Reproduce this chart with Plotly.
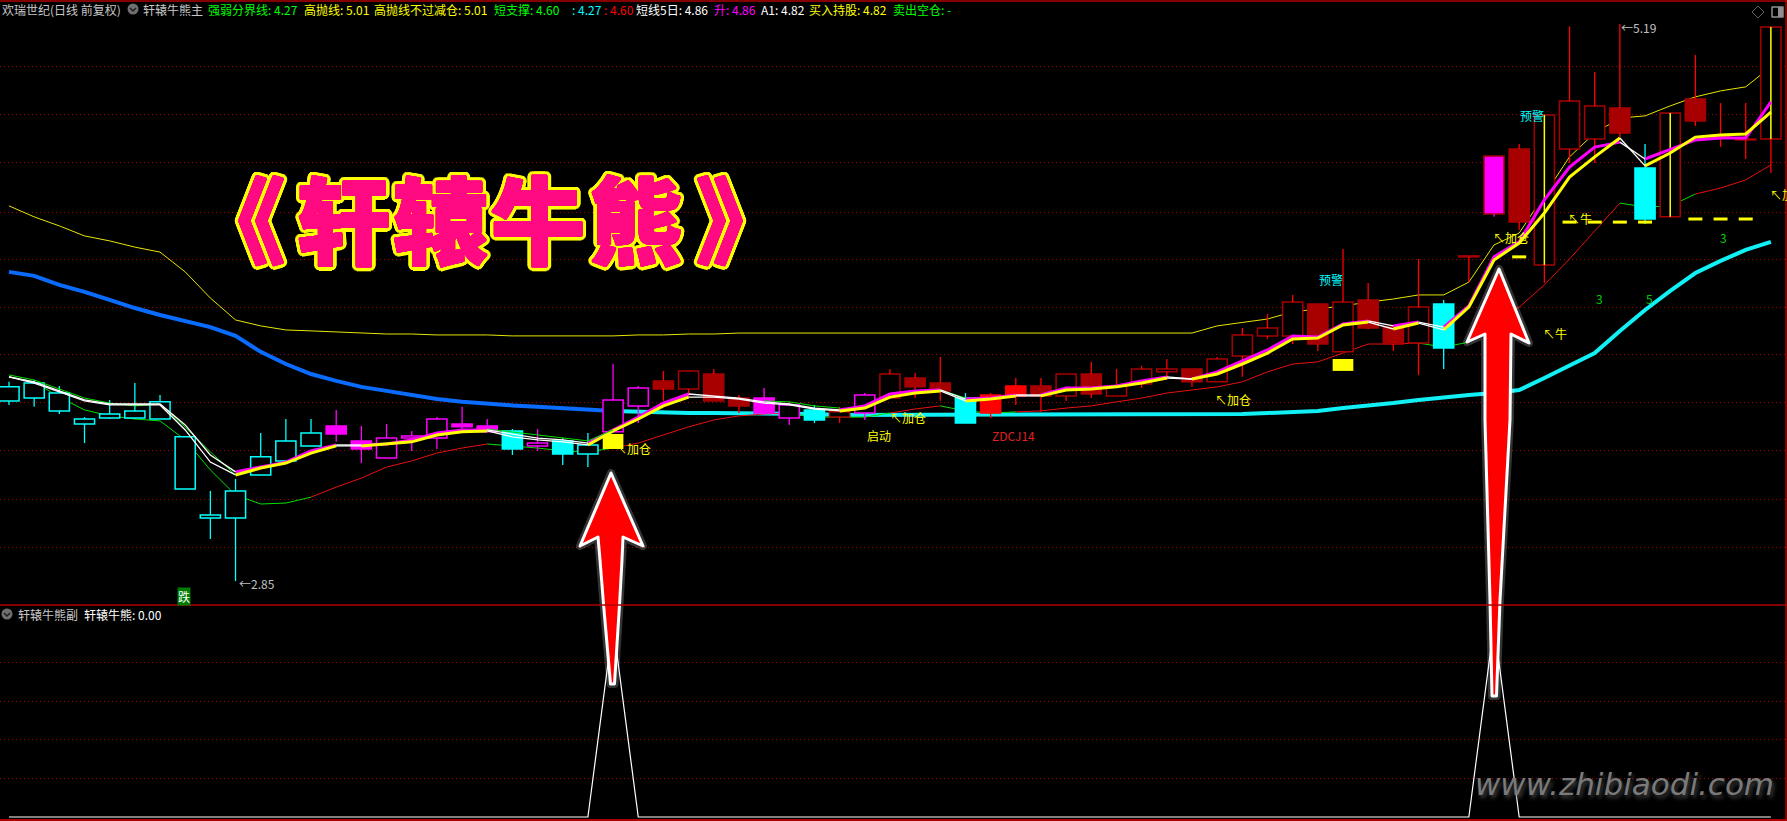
import plotly.graph_objects as go
import math

W, H = 1787, 821

bars = list(range(71))

body_top = [3.666,3.682,3.640,3.531,3.552,3.565,3.603,3.456,3.128,3.229,3.372,3.439,3.472,3.502,3.439,3.451,3.460,3.531,3.510,3.502,
            3.481,3.430,3.439,3.422,3.611,3.661,3.691,3.733,3.720,3.619,3.619,3.590,3.569,3.561,3.632,3.720,3.703,3.682,3.619,3.632,
            3.670,3.670,3.720,3.720,3.670,3.741,3.741,3.741,3.783,3.884,3.913,4.022,4.014,4.022,4.031,3.917,4.001,4.014,4.216,4.636,
            4.665,4.808,4.867,4.846,4.837,4.585,4.816,4.875,4.720,4.707,5.177]
body_bottom = [3.607,3.619,3.565,3.510,3.535,3.535,3.531,3.237,3.115,3.115,3.296,3.355,3.418,3.468,3.405,3.367,3.451,3.451,3.498,3.477,
               3.405,3.418,3.384,3.384,3.477,3.586,3.657,3.657,3.607,3.586,3.556,3.535,3.527,3.539,3.556,3.619,3.666,3.649,3.514,3.556,
               3.628,3.628,3.628,3.636,3.628,3.678,3.729,3.687,3.687,3.796,3.880,3.880,3.846,3.813,3.913,3.846,3.850,3.829,4.212,4.392,
               4.358,4.178,4.665,4.707,4.732,4.371,4.380,4.783,4.711,4.703,4.707]
high = [3.687,3.695,3.670,3.539,3.611,3.682,3.632,3.456,3.229,3.279,3.472,3.531,3.531,3.569,3.502,3.510,3.481,3.539,3.582,3.531,
        3.489,3.489,3.451,3.472,3.762,3.670,3.733,3.733,3.741,3.632,3.661,3.603,3.590,3.582,3.640,3.741,3.724,3.791,3.640,3.640,
        3.703,3.703,3.720,3.771,3.741,3.754,3.783,3.741,3.791,3.913,3.972,4.052,4.014,4.245,4.102,3.922,4.203,4.031,4.216,4.636,
        4.686,4.808,5.180,4.988,5.190,4.686,4.816,5.060,4.858,4.858,5.177]
low = [3.590,3.582,3.552,3.430,3.531,3.531,3.531,3.237,3.027,2.850,3.296,3.355,3.418,3.435,3.346,3.367,3.397,3.405,3.481,3.477,
       3.380,3.397,3.338,3.329,3.477,3.514,3.607,3.623,3.607,3.556,3.548,3.506,3.514,3.514,3.527,3.619,3.619,3.607,3.514,3.535,
       3.590,3.561,3.607,3.619,3.628,3.661,3.695,3.666,3.687,3.708,3.867,3.846,3.817,3.813,3.909,3.817,3.716,3.741,4.106,4.380,
       4.325,4.102,4.606,4.606,4.711,4.350,4.380,4.762,4.674,4.623,4.564]
candle_style = ["ch"]*13 + ["mf","mf","mh","mh","mh","mf","mf","cf","mh","cf","ch","mh","mh","rf","rh","rf","rf","mf","mh","cf","rh",
                "mh","rh","rf","rf","cf","Rf","Rf","rf","rh","rf","rh","rh","rh","rf","rh","rh","rh","rh","rf","rh","rf","rf","rh",
                "cf","rh","mo","rf","rh","rh","rh","rf","cf","rh","rf","rf","rh","rh"]

band_line = [4.149,4.132,4.094,4.065,4.031,3.997,3.968,3.943,3.917,3.880,3.813,3.762,3.720,3.691,3.666,3.649,3.632,3.615,3.603,3.594,
             3.588,3.582,3.575,3.569,3.565,3.561,3.561,3.556,3.556,3.556,3.556,3.556,3.552,3.548,3.548,3.548,3.548,3.548,3.548,3.548,
             3.548,3.548,3.548,3.548,3.548,3.548,3.548,3.548,3.550,3.552,3.556,3.561,3.565,3.577,3.586,3.598,3.611,3.623,3.632,3.640,
             3.653,3.703,3.754,3.808,3.901,3.989,4.069,4.144,4.195,4.241,4.275]
band_blue_until = 24

high_sell = [4.426,4.380,4.342,4.300,4.279,4.253,4.232,4.149,4.039,3.947,3.922,3.905,3.901,3.896,3.892,3.888,3.888,3.884,3.884,3.884,
             3.880,3.880,3.880,3.880,3.880,3.884,3.884,3.888,3.888,3.892,3.892,3.892,3.892,3.892,3.892,3.892,3.892,3.892,3.892,3.892,
             3.892,3.892,3.892,3.892,3.892,3.892,3.892,3.892,3.922,3.938,3.951,3.981,3.993,4.006,4.022,4.035,4.052,4.052,4.106,4.262,
             4.312,4.472,4.632,4.732,4.795,4.804,4.846,4.884,4.909,4.926,5.010]

support = [3.708,3.687,3.623,3.569,3.544,3.531,3.523,3.443,3.317,3.212,3.174,3.178,3.203,3.245,3.283,3.329,3.355,3.388,3.409,3.426,
           3.418,3.409,3.397,3.393,3.409,3.430,3.464,3.498,3.527,3.544,3.552,3.556,3.539,3.539,3.539,3.556,3.573,3.586,3.565,3.556,
           3.561,3.565,3.577,3.586,3.603,3.619,3.640,3.653,3.666,3.687,3.729,3.762,3.771,3.808,3.846,3.846,3.850,3.833,3.854,3.938,
           4.001,4.094,4.203,4.321,4.438,4.421,4.426,4.476,4.501,4.535,4.598]
support_colors = "g"*12 + "r"*7 + "g"*5 + "r"*7 + "g"*4 + "r"*2 + "g"*3 + "r"*16 + "g"*2 + "r"*6 + "g"*3 + "r"*3

hold_line = [3.708,3.682,3.645,3.607,3.590,3.590,3.590,3.485,3.350,3.296,3.325,3.346,3.388,3.418,3.418,3.426,3.435,3.464,3.477,3.481,
             3.456,3.443,3.435,3.422,3.481,3.531,3.586,3.623,3.623,3.615,3.598,3.590,3.573,3.565,3.577,3.623,3.640,3.649,3.607,3.615,
             3.628,3.628,3.653,3.657,3.666,3.682,3.703,3.699,3.720,3.762,3.808,3.867,3.871,3.926,3.938,3.909,3.934,3.905,4.001,4.199,
             4.270,4.396,4.547,4.632,4.711,4.594,4.648,4.715,4.724,4.728,4.820]
rise_line = [3.708,3.687,3.649,3.611,3.594,3.594,3.594,3.506,3.380,3.309,3.329,3.350,3.397,3.422,3.422,3.426,3.443,3.472,3.485,3.485,
             3.468,3.451,3.443,3.430,3.485,3.539,3.598,3.636,3.628,3.619,3.603,3.594,3.577,3.569,3.586,3.636,3.649,3.653,3.615,3.619,
             3.632,3.632,3.661,3.661,3.670,3.691,3.708,3.699,3.729,3.775,3.821,3.880,3.875,3.930,3.943,3.922,3.938,3.917,4.006,4.212,
             4.275,4.451,4.589,4.673,4.694,4.623,4.662,4.703,4.711,4.711,4.863]
N = None
fall_line = [3.716,3.695,3.657,3.619,3.598,3.586,3.594,3.497,3.393,3.296,N,N,N,N,N,N,N,N,N,3.489,
             3.477,3.464,3.451,3.439,3.485,N,N,N,N,N,3.607,3.603,3.586,3.577,N,N,N,3.653,3.619,N,
             N,N,N,N,N,N,N,N,N,N,N,N,N,N,N,N,N,N,N,N,
             N,N,N,N,N,N,N,N,N,N,N]

stem_bars = [61, 66, 70]
stem_top = [4.808, 4.816, 5.177]
stem_bottom = [4.178, 4.380, 4.707]

signal_bars = [24, 53]
signal_top = [3.468, 3.783]
signal_bottom = [3.405, 3.733]

dash_bars = [60, 62, 63, 64, 65, 67, 68, 69]
dash_prices = [4.212, 4.358, 4.358, 4.358, 4.358, 4.371, 4.371, 4.371]

grid_prices = [5.01, 4.81, 4.61, 4.40, 4.20, 4.00, 3.80, 3.60, 3.40, 3.195, 2.99]

bull_bear = [0]*24 + [100] + [0]*34 + [100] + [0]*11
bull_bear_grid = [20, 40, 60, 80]

mark_text = ["↖加仓","↖加仓","↖加仓","↖加仓","↖加仓","↖牛","↖牛","启动","ZDCJ14","预警","预警","3","5","3","←2.85","←5.19"]
mark_x = [24.04,34.96,47.88,58.92,69.92,60.91,61.88,34.05,39.0,52.0,60.0,63.0,65.0,67.95,9.08,64.0]
mark_y = [3.409,3.539,3.615,4.295,4.472,3.892,4.375,3.460,3.460,4.115,4.804,4.039,4.039,4.295,2.842,5.177]
mark_color = ["#ffff00"]*8 + ["#e02020","#00ffff","#00ffff","#00d000","#00d000","#00d000","#c0c0c0","#c0c0c0"]

header_text = ["欢瑞世纪(日线 前复权)","轩辕牛熊主","强弱分界线: 4.27","高抛线: 5.01","高抛线不过减仓: 5.01","短支撑: 4.60",": 4.27",": 4.60",
               "短线5日: 4.86","升: 4.86","A1: 4.82","买入持股: 4.82","卖出空仓: -"]
header_left = [1,142,207,303,373,493,571,603,635,713,760,808,892]
header_color = ["#c8c8c8","#c8c8c8","#00ff00","#ffff00","#ffff00","#00ff00","#00ffff","#ff0000","#ffffff","#ff00ff","#ffffff","#ffff00","#00ff00"]

sub_text = ["轩辕牛熊副","轩辕牛熊: 0.00"]
sub_left = [17,83]
sub_color = ["#c8c8c8","#ffffff"]

title_chars = ["《","轩","辕","牛","熊","》"]
title_center = [238, 343, 440, 538, 636, 743]
watermark = "www.zhibiaodi.com"

CJK = "Noto Sans CJK SC"
STYLE = {
    "ch": ("#000000", "#00ffff", "#00ffff"),
    "cf": ("#00ffff", "#00ffff", "#00ffff"),
    "mh": ("#000000", "#ff00ff", "#ff00ff"),
    "mf": ("#ff00ff", "#ff00ff", "#ff00ff"),
    "mo": ("#ff00ff", "#a00000", "#ff00ff"),
    "rh": ("#000000", "#a80000", "#ff0000"),
    "rf": ("#a80000", "#a80000", "#ff0000"),
    "Rf": ("#ff0000", "#ff0000", "#ff0000"),
}


def px(x, y):
    return f"{x / W:.5f} {1 - y / H:.5f}"


def poly(points):
    return "M " + " L ".join(px(*p) for p in points) + " Z"


def runs(xs, ys, keep):
    ox, oy = [], []
    for i in range(len(xs) - 1):
        if keep[i] and ys[i] is not None and ys[i + 1] is not None:
            if not ox or ox[-1] != xs[i] or oy[-1] is None:
                if ox:
                    ox.append(None); oy.append(None)
                ox.append(xs[i]); oy.append(ys[i])
            ox.append(xs[i + 1]); oy.append(ys[i + 1])
    return ox, oy


def line(xs, ys, color, width, axes=("x3", "y3")):
    return go.Scatter(x=xs, y=ys, mode="lines", line=dict(color=color, width=width),
                      xaxis=axes[0], yaxis=axes[1], hoverinfo="skip", showlegend=False)


fig = go.Figure()
base = ("x", "y")

n = len(bars)
fig.add_trace(line(*runs(bars, band_line, [i < band_blue_until for i in range(n)]), "#0a6cff", 4, base))
fig.add_trace(line(*runs(bars, band_line, [i >= band_blue_until for i in range(n)]), "#10f0f5", 4, base))
fig.add_trace(line(bars, high_sell, "#e6e600", 1, base))
fig.add_trace(line(*runs(bars, support, [c == "g" for c in support_colors]), "#00e000", 1, base))
fig.add_trace(line(*runs(bars, support, [c == "r" for c in support_colors]), "#e81010", 1, base))

fig.add_trace(go.Bar(x=bars, y=[t - b for t, b in zip(body_top, body_bottom)], base=body_bottom, width=0.8,
                     marker=dict(color=[STYLE[s][0] for s in candle_style],
                                 line=dict(color=[STYLE[s][1] for s in candle_style], width=1.5)),
                     xaxis="x3", yaxis="y3", hoverinfo="skip", showlegend=False))
fig.add_trace(go.Bar(x=signal_bars, y=[t - b for t, b in zip(signal_top, signal_bottom)], base=signal_bottom, width=0.82,
                     marker=dict(color="#ffff00", line=dict(width=0)),
                     xaxis="x3", yaxis="y3", hoverinfo="skip", showlegend=False))
for color in sorted({STYLE[s][2] for s in candle_style}):
    wx, wy = [], []
    for i, s in enumerate(candle_style):
        if STYLE[s][2] == color:
            if high[i] > body_top[i]:
                wx += [bars[i], bars[i], None]; wy += [high[i], body_top[i], None]
            if low[i] < body_bottom[i]:
                wx += [bars[i], bars[i], None]; wy += [body_bottom[i], low[i], None]
    fig.add_trace(line(wx, wy, color, 1.3))
sx, sy = [], []
for b, t, l in zip(stem_bars, stem_top, stem_bottom):
    sx += [b, b, None]; sy += [t, l, None]
fig.add_trace(line(sx, sy, "#ffff00", 1.5))

rising = [hold_line[i + 1] - hold_line[i] > 0.003 for i in range(n - 1)] + [False]
falling = [not r for r in rising]
fig.add_trace(line(*runs(bars, rise_line, rising), "#ff00ff", 3))
fig.add_trace(line(*runs(bars, hold_line, rising), "#ffff00", 3))
fig.add_trace(line(bars, fall_line, "#00e000", 1))
fig.add_trace(line(*runs(bars, rise_line, falling), "#ffffff", 1.3))
fig.add_trace(line(*runs(bars, hold_line, falling), "#ffffff", 1.3))
fig.add_trace(go.Scatter(x=dash_bars, y=dash_prices, mode="markers",
                         marker=dict(symbol="line-ew", size=10, line=dict(color="#ffff00", width=3)),
                         xaxis="x3", yaxis="y3", hoverinfo="skip", showlegend=False))

fig.add_trace(line(bars, bull_bear, "#ffffff", 1.2, ("x2", "y2")))

x_range = [-0.3576, 70.64]
split = 1 - 605 / H
hidden = dict(showticklabels=False, ticks="", zeroline=False, showline=False, fixedrange=True)
dotted = dict(showgrid=True, gridcolor="#a80000", griddash="1px 3px", gridwidth=1)

annotations = []
for t, x, y, c in zip(mark_text, mark_x, mark_y, mark_color):
    annotations.append(dict(text=t, x=x, y=y, xref="x", yref="y", xanchor="left", yanchor="middle", showarrow=False,
                            font=dict(family=CJK, size=12, color=c), borderpad=0))
annotations.append(dict(text="跌", x=6.97, y=2.784, xref="x", yref="y", xanchor="center", yanchor="middle", showarrow=False,
                        font=dict(family=CJK, size=12, color="#ffffff"), bgcolor="#007a00", borderpad=0))
for t, x, c in zip(header_text, header_left, header_color):
    annotations.append(dict(text=t, x=x / W, y=1 - 9 / H, xref="paper", yref="paper", xanchor="left", yanchor="middle",
                            showarrow=False, font=dict(family=CJK, size=12, color=c), borderpad=0))
for t, x, c in zip(sub_text, sub_left, sub_color):
    annotations.append(dict(text=t, x=x / W, y=1 - 614 / H, xref="paper", yref="paper", xanchor="left", yanchor="middle",
                            showarrow=False, font=dict(family=CJK, size=12, color=c), borderpad=0))


def ring(radius, color):
    return [f"{radius * math.cos(a * math.pi / 12):.2f}px {radius * math.sin(a * math.pi / 12):.2f}px 0 {color}" for a in range(24)]


stroke = ", ".join(ring(1.0, "#ff0a82") + ring(3, "#ffff00") + ring(4.5, "#ffff00"))
for ch, cx in zip(title_chars, title_center):
    annotations.append(dict(text=ch, x=cx / W, y=1 - 216 / H, xref="paper", yref="paper", xanchor="center", yanchor="middle",
                            showarrow=False, font=dict(family=CJK, size=94, color="#ff0a82", weight=900, shadow=stroke)))
annotations.append(dict(text=watermark, x=1624 / W, y=1 - 784 / H, xref="paper", yref="paper", xanchor="center", yanchor="middle",
                        showarrow=False, font=dict(family="DejaVu Sans", size=31, style="italic", color="#7a7a7a",
                                                   shadow="2px 3px 4px #444444")))

arrow_a = [(611, 473), (643, 546), (623, 537), (622, 560), (619.5, 605), (614.5, 684), (610.5, 684),
           (603.6, 605), (600, 560), (598, 537), (580, 546)]
arrow_b = [(1499, 269), (1529, 343), (1511, 334), (1510, 420), (1500, 600), (1496.5, 696), (1492, 696),
           (1490, 600), (1485, 420), (1485, 334), (1467, 342)]
shapes = []
for arrow in (arrow_a, arrow_b):
    shapes.append(dict(type="path", path=poly(arrow), xref="paper", yref="paper", layer="above",
                       line=dict(color="rgba(255,255,255,0.2)", width=8), fillcolor="rgba(0,0,0,0)"))
    shapes.append(dict(type="path", path=poly(arrow), xref="paper", yref="paper", layer="above",
                       line=dict(color="#ffffff", width=3), fillcolor="#ff0000"))


def rule(x0, y0, x1, y1, color="#b00000", width=1.5):
    return dict(type="line", x0=x0 / W, x1=x1 / W, y0=1 - y0 / H, y1=1 - y1 / H, xref="paper", yref="paper",
                layer="above", line=dict(color=color, width=width))


shapes += [rule(0, 1, W, 1), rule(0, 605, W, 605), rule(0, 820, W, 820, "#e00000"), rule(1786, 0, 1786, H)]
for cx, cy in ((133, 9), (7, 614)):
    shapes.append(dict(type="circle", x0=(cx - 5.5) / W, x1=(cx + 5.5) / W, y0=1 - (cy + 5.5) / H, y1=1 - (cy - 5.5) / H,
                       xref="paper", yref="paper", fillcolor="#707070", line=dict(width=0), layer="above"))
    shapes.append(dict(type="path", path=f"M {px(cx - 3, cy - 1)} L {px(cx, cy + 2)} L {px(cx + 3, cy - 1)}",
                       xref="paper", yref="paper", line=dict(color="#202020", width=1.5), layer="above"))
shapes.append(dict(type="path", path=poly([(1758, 6), (1764, 12), (1758, 18), (1752, 12)]), xref="paper", yref="paper",
                   line=dict(color="#606060", width=1), layer="above"))
shapes.append(dict(type="rect", x0=1772 / W, x1=1783 / W, y0=1 - 17 / H, y1=1 - 7 / H, xref="paper", yref="paper",
                   line=dict(color="#909090", width=1.5), layer="above"))
shapes.append(dict(type="rect", x0=1778 / W, x1=1783 / W, y0=1 - 17 / H, y1=1 - 7 / H, xref="paper", yref="paper",
                   fillcolor="#909090", line=dict(width=0), layer="above"))

y_range = [2.7498, 5.2908]
fig.update_layout(
    width=W, height=H, autosize=False, margin=dict(l=0, r=0, t=0, b=0),
    paper_bgcolor="#000000", plot_bgcolor="#000000", barmode="overlay", showlegend=False,
    xaxis=dict(domain=[0, 1], range=x_range, showgrid=False, **hidden),
    yaxis=dict(domain=[split, 1], range=y_range, tickvals=grid_prices, **dotted, **hidden),
    xaxis2=dict(domain=[0, 1], range=x_range, showgrid=False, anchor="y2", **hidden),
    yaxis2=dict(domain=[0, split], range=[-2.08, 110.1], tickvals=bull_bear_grid, anchor="x2", **dotted, **hidden),
    xaxis3=dict(range=x_range, overlaying="x", showgrid=False, **hidden),
    yaxis3=dict(range=y_range, overlaying="y", showgrid=False, anchor="x3", **hidden),
    annotations=annotations, shapes=shapes,
)

fig.write_html("out.html", config={"displayModeBar": False, "staticPlot": True},
               post_script="document.body.style.margin='0';document.body.style.background='#000';document.body.style.overflow='hidden';"
                           "document.querySelectorAll('.shapelayer path').forEach(function(p){p.style.strokeLinejoin='round';});")
